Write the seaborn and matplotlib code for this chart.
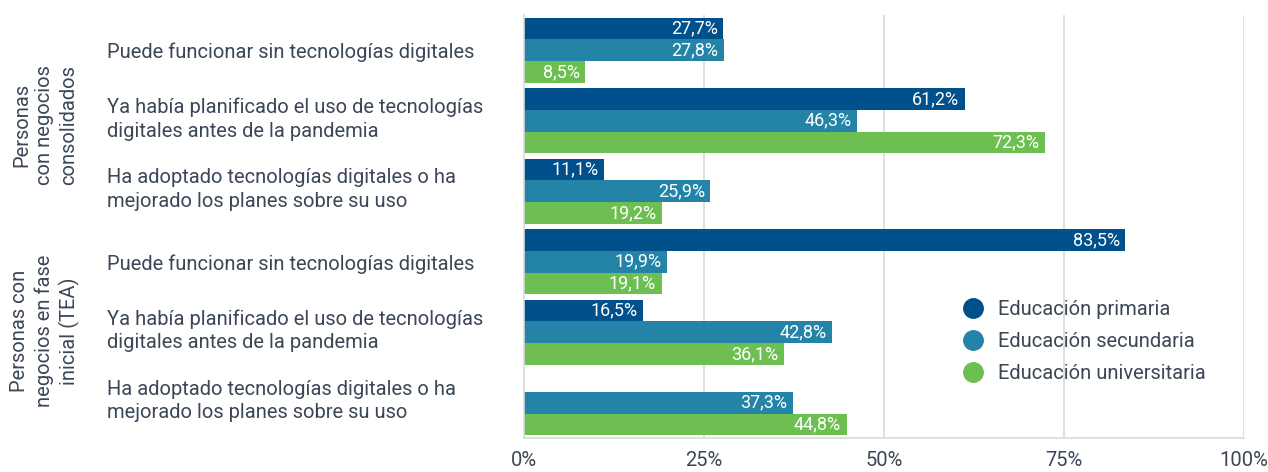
import numpy as np
import pandas as pd
import seaborn as sns
import matplotlib.pyplot as plt
import matplotlib.transforms as mtransforms
from matplotlib.lines import Line2D

# Categories (y axis), in display order
categorias = [
    "Puede funcionar sin tecnologías digitales",
    "Ya había planificado el uso de tecnologías\ndigitales antes de la pandemia",
    "Ha adoptado tecnologías digitales o ha\nmejorado los planes sobre su uso",
    "Puede funcionar sin tecnologías digitales ",
    "Ya había planificado el uso de tecnologías\ndigitales antes de la pandemia ",
    "Ha adoptado tecnologías digitales o ha\nmejorado los planes sobre su uso ",
]
series = ["Educación primaria", "Educación secundaria", "Educación universitaria"]
primaria = [27.7, 61.2, 11.1, 83.5, 16.5, np.nan]
secundaria = [27.8, 46.3, 25.9, 19.9, 42.8, 37.3]
universitaria = [8.5, 72.3, 19.2, 19.1, 36.1, 44.8]
grupos = ["Personas\ncon negocios\nconsolidados",
          "Personas con\nnegocios en fase\ninicial (TEA)"]
xticks = [0, 25, 50, 75, 100]

colores = ["#00508c", "#2384a8", "#6dbf52"]
texto = "#3b4757"

df = pd.DataFrame({
    "categoria": categorias * 3,
    "nivel": [series[0]] * 6 + [series[1]] * 6 + [series[2]] * 6,
    "valor": primaria + secundaria + universitaria,
})

sns.set_theme(style="white")
plt.rcParams["font.family"] = ["Roboto", "DejaVu Sans"]

fig = plt.figure(figsize=(12.68, 4.72), dpi=100)
ax = fig.add_axes([524 / 1268, 1 - 438 / 472, 720 / 1268, 423 / 472])

sns.barplot(data=df, y="categoria", x="valor", hue="nivel", order=categorias,
            hue_order=series, palette=colores, orient="h", width=0.92,
            gap=0, saturation=1, legend=False, linewidth=0, ax=ax)

ax.set_xlim(0, 100)
ax.set_ylim(5.5, -0.5)
ax.set_xticks(xticks)
ax.set_xticklabels([f"{v}%" for v in xticks])
ax.set_xlabel("")
ax.set_ylabel("")

# vertical gridlines
for v in xticks[1:]:
    ax.axvline(v, color="#d9d9d9", lw=1.2, zorder=0)

for s in ["top", "right"]:
    ax.spines[s].set_visible(False)
for s in ["left", "bottom"]:
    ax.spines[s].set_color("#d9d9d9")
    ax.spines[s].set_linewidth(1.2)

ax.tick_params(axis="x", length=0, labelsize=14.5, labelcolor=texto, pad=9)
ax.tick_params(axis="y", length=0, labelsize=14.5, labelcolor=texto, pad=300)
lift = mtransforms.ScaledTranslation(0, 6 / 100, fig.dpi_scale_trans)
for lbl in ax.get_yticklabels():
    lbl.set_horizontalalignment("left")
    lbl.set_linespacing(1.3)
    if "\n" in lbl.get_text():
        lbl.set_transform(lbl.get_transform() + lift)

# value labels inside the bar ends
for cont, vals in zip(ax.containers, [primaria, secundaria, universitaria]):
    for patch, v in zip(cont.patches, vals):
        if np.isnan(v):
            continue
        y = patch.get_y() + patch.get_height() / 2
        ax.annotate(f"{v:.1f}%".replace(".", ","), (v, y),
                    xytext=(-4, 0), textcoords="offset points",
                    ha="right", va="center", color="white", fontsize=13)

# group labels on the far left
for txt, yc in zip(grupos, [125, 331]):
    fig.text(45 / 1268, 1 - yc / 472, txt, rotation=90, ha="center",
             va="center", multialignment="center", fontsize=14.5,
             color=texto, linespacing=1.3)

handles = [Line2D([], [], marker="o", linestyle="none", markersize=14,
                  markerfacecolor=c, markeredgecolor=c) for c in colores]
leg = fig.legend(handles, series, loc="upper left",
                 bbox_to_anchor=(945 / 1268, 1 - 282 / 472), frameon=False,
                 fontsize=14.5, labelcolor=texto, handletextpad=0.75,
                 labelspacing=0.65, handlelength=1.0)

fig.savefig("out.png", dpi=100)
